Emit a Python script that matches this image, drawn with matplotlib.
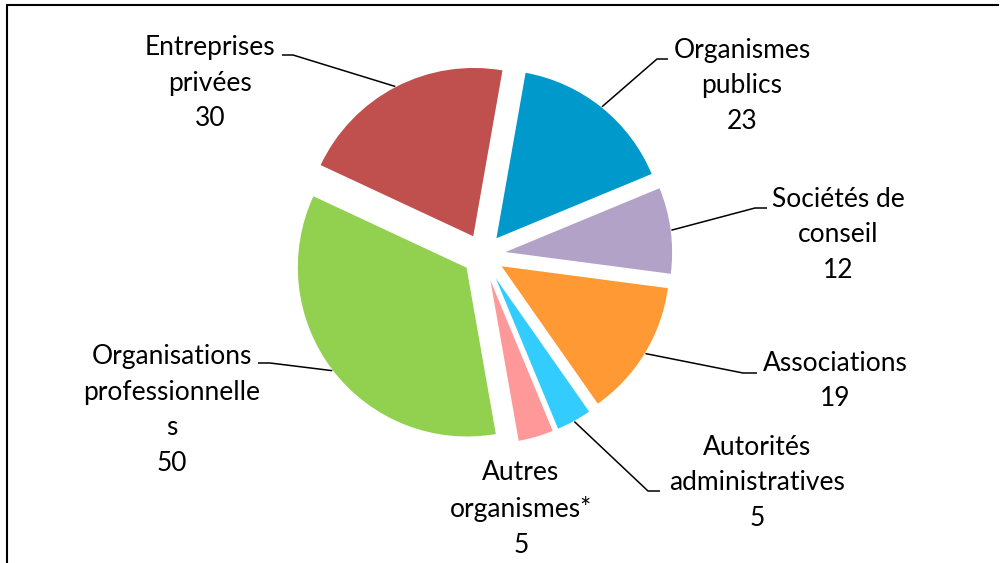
import numpy as np
import matplotlib
matplotlib.use('Agg')
import matplotlib.pyplot as plt

plt.rcParams['font.family'] = ['Lato', 'DejaVu Sans']

# Données (ordre horaire à partir du haut)
categories = ['Organismes\npublics', 'Sociétés de\nconseil', 'Associations',
              'Autorités\nadministratives', 'Autres\norganismes*',
              'Organisations\nprofessionnelle\ns', 'Entreprises\nprivées']
values = [23, 12, 19, 5, 5, 50, 30]
colors = ['#0099CC', '#B3A2C7', '#FF9933', '#33CCFF', '#FF9999', '#92D050', '#C0504D']

# Position des étiquettes (pixels, origine en haut à gauche)
label_pos = [(742, 86), (838, 235), (835, 381), (757, 483), (521, 509), (172, 410), (210, 83)]
# Lignes de rappel : (x coude, y, x fin) ou None
leaders = [(657, 59, 668), (755, 208, 767), (743, 373, 757), (648, 491, 660),
           None, (270, 363, 258), (293, 55, 282)]

H = 563

fig = plt.figure(figsize=(10, 5.63), dpi=100)
ax = fig.add_axes([0, 0, 1, 1])

wedges, _ = ax.pie(values, colors=colors, startangle=80, counterclock=False,
                   explode=[20] * len(values), radius=170, center=(483, H - 255),
                   wedgeprops=dict(edgecolor='white', linewidth=1))

ax.set_xlim(0, 1000)
ax.set_ylim(0, H)
ax.set_aspect('equal')
ax.axis('off')

for w, cat, val, pos, ld in zip(wedges, categories, values, label_pos, leaders):
    ax.text(pos[0], H - pos[1], f'{cat}\n{val}', ha='center', va='center',
            fontsize=19, linespacing=1.52, color='black')
    if ld is None:
        continue
    tm = np.deg2rad((w.theta1 + w.theta2) / 2)
    px = w.center[0] + w.r * np.cos(tm)
    py = w.center[1] + w.r * np.sin(tm)
    ax.plot([px, ld[0], ld[2]], [py, H - ld[1], H - ld[1]], color='black', lw=1.1,
            solid_capstyle='butt')

# Cadre
ax.plot([7, 7, 998], [0, H - 5, H - 5], color='black', lw=1.5, solid_joinstyle='miter')

fig.savefig('out.png', dpi=100)
